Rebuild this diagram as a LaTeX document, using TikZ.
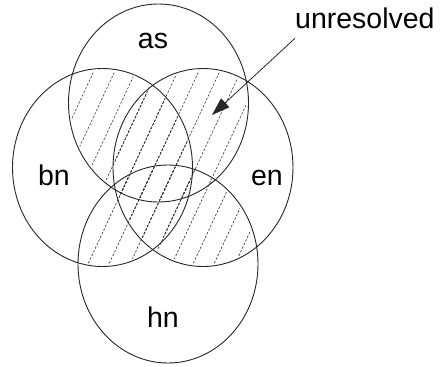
\documentclass[tikz,border=0pt]{standalone}
\usepackage{fontspec}
\setmainfont{Liberation Sans}
\usepackage{tikz}
\usetikzlibrary{arrows.meta,positioning}

\tikzset{
  setline/.style={draw=black!85,line width=0.9pt},
  hatchline/.style={draw=black!80,line width=0.6pt,dash pattern=on 2.4pt off 1.6pt},
  setlabel/.style={font=\fontsize{28.5}{32}\selectfont,inner sep=0pt},
  pointer/.style={draw=black!85,line width=0.8pt,-{Triangle[length=18pt,width=12pt]}},
}

\begin{document}
\begin{tikzpicture}[x=1pt,y=-1pt]
  \useasboundingbox (0,0) rectangle (440,367);
  % set centres
  \coordinate (cas) at (158.5,103);
  \coordinate (cbn) at (102.5,167.5);
  \coordinate (cen) at (203,167.5);
  \coordinate (chn) at (168,264);

  % hatching where two sets overlap
  \foreach \p/\q in {as/bn,as/en,as/hn,bn/en,bn/hn,en/hn} {
    \begin{scope}
      \clip (c\p) ellipse [x radius=88,y radius=97];
      \clip (c\q) ellipse [x radius=88,y radius=97];
      \foreach \c in {106,127,...,421}
        \draw[hatchline] (\c,0) -- ++(-171,367);
    \end{scope}
  }

  % the four sets
  \foreach \s in {as,bn,en,hn}
    \draw[setline] (c\s) ellipse [x radius=90,y radius=99];

  \node[setlabel,anchor=base] (as) at (153,48) {as};
  \node[setlabel,anchor=base] (bn) at (54,185) {bn};
  \node[setlabel,anchor=base] (en) at (267,185) {en};
  \node[setlabel,anchor=base] (hn) at (163,327) {hn};

  \node[setlabel,anchor=base west,outer ysep=10pt] (unres) at (295,28) {unresolved};
  \coordinate (hatch) at (212,115);
  \draw[pointer] (unres.south west) -- (hatch);
\end{tikzpicture}
\end{document}
